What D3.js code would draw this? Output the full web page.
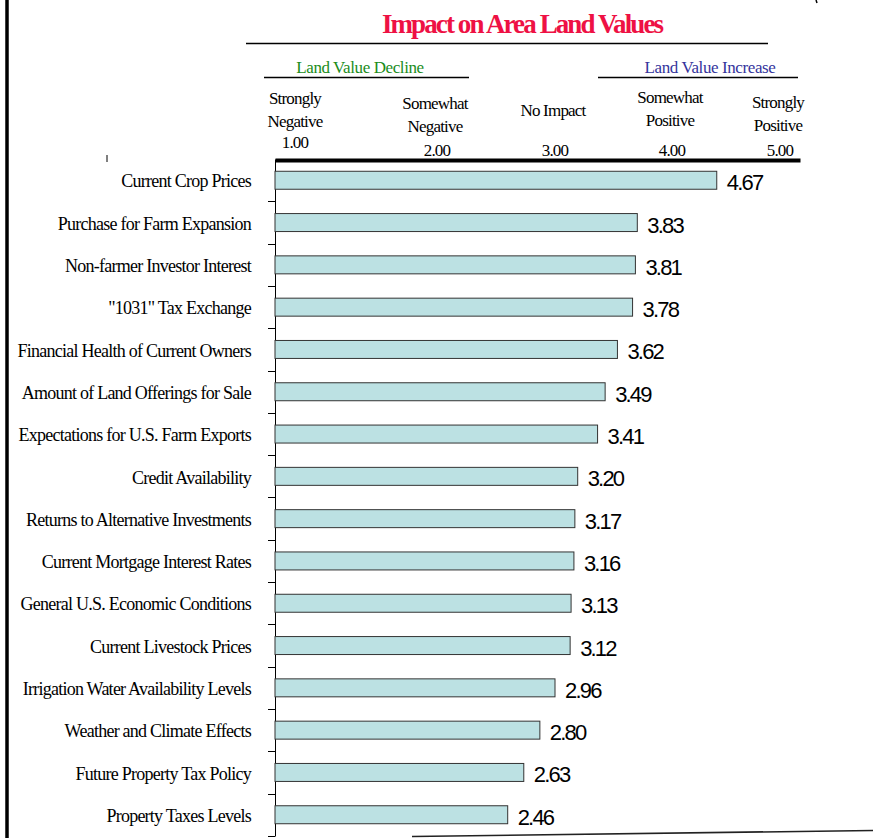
<!DOCTYPE html>
<html><head><meta charset="utf-8">
<script src="https://cdn.jsdelivr.net/npm/d3@7"></script>
<style>body{margin:0;background:#fff}svg{display:block}</style>
</head><body>
<script>
const categories = ["Current Crop Prices","Purchase for Farm Expansion","Non-farmer Investor Interest","\"1031\" Tax Exchange","Financial Health of Current Owners","Amount of Land Offerings for Sale","Expectations for U.S. Farm Exports","Credit Availability","Returns to Alternative Investments","Current Mortgage Interest Rates","General U.S. Economic Conditions","Current Livestock Prices","Irrigation Water Availability Levels","Weather and Climate Effects","Future Property Tax Policy","Property Taxes Levels"];
const values = [4.67,3.83,3.81,3.78,3.62,3.49,3.41,3.20,3.17,3.16,3.13,3.12,2.96,2.80,2.63,2.46];
const headerLabels = [["Strongly","Negative"],["Somewhat","Negative"],["No Impact"],["Somewhat","Positive"],["Strongly","Positive"]];
const headerValues = ["1.00","2.00","3.00","4.00","5.00"];
const title = "Impact on Area Land Values";
const groupLabels = ["Land Value Decline","Land Value Increase"];

const W = 873, H = 838;
const svg = d3.select("body").append("svg").attr("width", W).attr("height", H);
const serif = "'Liberation Serif','Times New Roman',serif";
const sans = "'Liberation Sans',Arial,sans-serif";

const x = d3.scaleLinear().domain([0, 5.55]).range([275, 800]);
const y = d3.scaleBand().domain(categories).range([159, 836]).paddingInner(0.575).paddingOuter(0.29);

// left border
svg.append("line").attr("x1",7).attr("x2",7).attr("y1",0).attr("y2",H).attr("stroke","#000").attr("stroke-width",3.5);
// bottom line
svg.append("line").attr("x1",412).attr("x2",873).attr("y1",836.5).attr("y2",830.5).attr("stroke","#222").attr("stroke-width",1.6);
// small marks
svg.append("line").attr("x1",107).attr("x2",107).attr("y1",155).attr("y2",162).attr("stroke","#000").attr("stroke-width",1);
svg.append("line").attr("x1",816).attr("x2",817).attr("y1",0).attr("y2",3).attr("stroke","#000").attr("stroke-width",1.5);

// title
svg.append("text").attr("x",522).attr("y",33).attr("text-anchor","middle")
  .attr("font-family",serif).attr("font-weight","bold").attr("font-size",27)
  .attr("letter-spacing",-1.9).attr("fill","#ee1144").text(title);
svg.append("line").attr("x1",246).attr("x2",768).attr("y1",43.5).attr("y2",43.5).attr("stroke","#000").attr("stroke-width",1.3);

// group labels
const groupX = [360, 710], groupLine = [[264,469],[598,798]], groupColor = ["#1a8c1a","#34349c"];
groupLabels.forEach((g,i)=>{
  svg.append("text").attr("x",groupX[i]).attr("y",73).attr("text-anchor","middle")
    .attr("font-family",serif).attr("font-size",17).attr("letter-spacing",-0.4).attr("fill",groupColor[i]).text(g);
  svg.append("line").attr("x1",groupLine[i][0]).attr("x2",groupLine[i][1]).attr("y1",77.5).attr("y2",77.5).attr("stroke","#000").attr("stroke-width",1.3);
});

// header columns
const headerX = [295, 435, 553, 670, 778];
const headerY0 = [104, 109, 116, 103, 108];
headerLabels.forEach((lines,i)=>{
  lines.forEach((t,j)=>{
    svg.append("text").attr("x",headerX[i]).attr("y",headerY0[i] + j*23).attr("text-anchor","middle")
      .attr("font-family",serif).attr("font-size",17).attr("letter-spacing",-0.8).attr("fill","#000").text(t);
  });
  svg.append("text").attr("x",headerX[i] + (i===0?0:2)).attr("y", i===0 ? 148 : 156).attr("text-anchor","middle")
    .attr("font-family",serif).attr("font-size",17).attr("letter-spacing",-0.8).attr("fill","#000").text(headerValues[i]);
});

// top axis
const topAxis = svg.append("g").attr("transform","translate(0,160)")
  .call(d3.axisTop(x).tickValues([]).tickSizeOuter(0));
topAxis.select(".domain").attr("stroke","#000").attr("stroke-width",4);

// left axis with labels
const leftAxis = svg.append("g").attr("transform","translate(275,0)")
  .call(d3.axisLeft(y).tickSize(0).tickPadding(24));
leftAxis.select(".domain").attr("stroke","#000").attr("stroke-width",1);
leftAxis.selectAll("text").attr("font-family",serif).attr("font-size",18).attr("letter-spacing",-0.75).attr("fill","#000").attr("dy","0.4em");

// ticks between categories
const step = y.step();
const bounds = categories.map((c,i)=> y(c) - y.paddingInner()*step/2 + step);
svg.append("g").selectAll("line").data(bounds).join("line")
  .attr("x1",268).attr("x2",275).attr("y1",d=>Math.round(d)+0.5).attr("y2",d=>Math.round(d)+0.5)
  .attr("stroke","#000").attr("stroke-width",1);

// bars
svg.append("g").selectAll("rect").data(values).join("rect")
  .attr("x", x(0)).attr("y",(d,i)=>y(categories[i]))
  .attr("width", d=>x(d)-x(0)).attr("height", y.bandwidth())
  .attr("fill","#bce1e3").attr("stroke","#333").attr("stroke-width",1);

// value labels
svg.append("g").selectAll("text").data(values).join("text")
  .attr("x", d=>x(d)+10).attr("y",(d,i)=>y(categories[i]) + y.bandwidth()/2 + 10)
  .attr("font-family",sans).attr("font-size",22).attr("letter-spacing",-1.8).attr("fill","#000")
  .text(d=>d.toFixed(2));
</script>
</body></html>
